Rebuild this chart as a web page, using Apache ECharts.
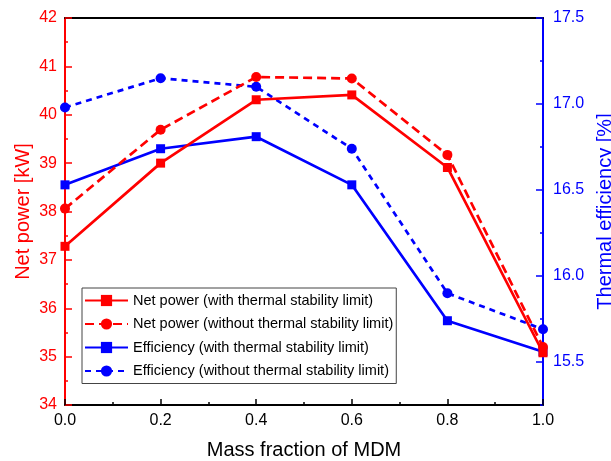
<!DOCTYPE html>
<html>
<head>
<meta charset="utf-8">
<script src="https://cdn.jsdelivr.net/npm/echarts@6/dist/echarts.min.js"></script>
<style>
  html, body { margin: 0; padding: 0; background: #fff; }
  #chart { width: 611px; height: 461px; }
</style>
</head>
<body>
<div id="chart"></div>
<script>
// values
const massFraction = [0.0, 0.2, 0.4, 0.6, 0.8, 1.0]
const netPowerWith = [37.28, 39.0, 40.31, 40.41, 38.91, 35.08]
const netPowerWithout = [38.06, 39.69, 40.78, 40.75, 39.17, 35.2]
const effWith = [16.53, 16.74, 16.81, 16.53, 15.74, 15.56]
const effWithout = [16.98, 17.15, 17.10, 16.74, 15.90, 15.69]
const effLabels = [15.5, 16.0, 16.5, 17.0, 17.5]

const seriesNames = [
  'Net power (with thermal stability limit)',
  'Net power (without thermal stability limit)',
  'Efficiency (with thermal stability limit)',
  'Efficiency (without thermal stability limit)'
]

const RED = '#ff0000'
const BLUE = '#0000ff'
const FONT = 'Liberation Sans, Arial, sans-serif'

const pairs = ys => massFraction.map((x, i) => [x, ys[i]])

const chart = echarts.init(document.getElementById('chart'))

chart.setOption({
  animation: false,
  textStyle: { fontFamily: FONT },
  grid: { left: 65, right: 68, top: 18, bottom: 56, outerBoundsMode: 'none', containLabel: false },
  legend: {
    orient: 'vertical',
    left: 82,
    top: 288,
    data: seriesNames,
    itemWidth: 43,
    itemHeight: 14,
    itemGap: 8.5,
    padding: [5, 3, 5, 2],
    borderColor: '#444',
    borderWidth: 1,
    backgroundColor: '#fff',
    textStyle: { fontSize: 14.5, color: '#000', fontFamily: FONT }
  },
  xAxis: [
    {
      type: 'value',
      min: 0,
      max: 1,
      interval: 0.2,
      name: 'Mass fraction of MDM',
      nameLocation: 'middle',
      nameGap: 35,
      nameTextStyle: { fontSize: 20, color: '#000', fontFamily: FONT },
      axisLine: { onZero: false, lineStyle: { color: '#000', width: 2 } },
      axisTick: { inside: true, length: 6, lineStyle: { color: '#000', width: 1.5 } },
      minorTick: { show: true, splitNumber: 2, length: 3, lineStyle: { color: '#000', width: 1.5 } },
      axisLabel: { fontSize: 16, color: '#000', margin: 8, formatter: v => v.toFixed(1) },
      splitLine: { show: false }
    },
    {
      type: 'value',
      position: 'top',
      min: 0,
      max: 1,
      interval: 0.2,
      axisLine: { show: true, onZero: false, lineStyle: { color: '#000', width: 2 } },
      axisTick: { show: false },
      axisLabel: { show: false },
      splitLine: { show: false }
    }
  ],
  yAxis: [
    {
      type: 'value',
      position: 'left',
      min: 34,
      max: 42,
      interval: 1,
      name: 'Net power [kW]',
      nameLocation: 'middle',
      nameGap: 32,
      nameMoveOverlap: false,
      nameTextStyle: { fontSize: 20, color: RED, fontFamily: FONT },
      axisLine: { show: true, onZero: false, lineStyle: { color: RED, width: 2 } },
      axisTick: { show: true, inside: true, length: 7, lineStyle: { color: RED, width: 1.5 } },
      minorTick: { show: true, splitNumber: 2, length: 3, lineStyle: { color: RED, width: 1.5 } },
      axisLabel: { fontSize: 16, color: RED, margin: 8 },
      splitLine: { show: false }
    },
    {
      type: 'value',
      position: 'right',
      min: 15.25,
      max: 17.5,
      name: 'Thermal efficiency [%]',
      nameLocation: 'middle',
      nameGap: 52,
      nameMoveOverlap: false,
      nameTextStyle: { fontSize: 20, color: BLUE, fontFamily: FONT },
      axisLine: { show: true, onZero: false, lineStyle: { color: BLUE, width: 2 } },
      axisTick: { show: true, inside: true, length: 7, customValues: effLabels, lineStyle: { color: BLUE, width: 1.5 } },
      axisLabel: { fontSize: 16, color: BLUE, margin: 10, customValues: effLabels, formatter: v => v.toFixed(1) },
      splitLine: { show: false }
    },
    {
      // minor ticks for the efficiency axis
      type: 'value',
      position: 'right',
      min: 15.25,
      max: 17.5,
      interval: 0.25,
      axisLine: { show: false, onZero: false },
      axisTick: { show: true, inside: true, length: 3, lineStyle: { color: BLUE, width: 1.5 } },
      axisLabel: { show: false },
      splitLine: { show: false }
    }
  ],
  series: [
    {
      name: seriesNames[2],
      type: 'line',
      yAxisIndex: 1,
      data: pairs(effWith),
      symbol: 'rect',
      symbolSize: 9,
      color: BLUE,
      lineStyle: { width: 2.7, color: BLUE },
      z: 2
    },
    {
      name: seriesNames[3],
      type: 'line',
      yAxisIndex: 1,
      data: pairs(effWithout),
      symbol: 'circle',
      symbolSize: 10,
      color: BLUE,
      lineStyle: { width: 2.7, color: BLUE, type: [6, 5] },
      z: 2
    },
    {
      name: seriesNames[0],
      type: 'line',
      yAxisIndex: 0,
      data: pairs(netPowerWith),
      symbol: 'rect',
      symbolSize: 9,
      color: RED,
      lineStyle: { width: 2.7, color: RED },
      z: 3
    },
    {
      name: seriesNames[1],
      type: 'line',
      yAxisIndex: 0,
      data: pairs(netPowerWithout),
      symbol: 'circle',
      symbolSize: 10,
      color: RED,
      lineStyle: { width: 2.7, color: RED, type: [9, 5] },
      z: 3
    }
  ]
})
</script>
</body>
</html>
